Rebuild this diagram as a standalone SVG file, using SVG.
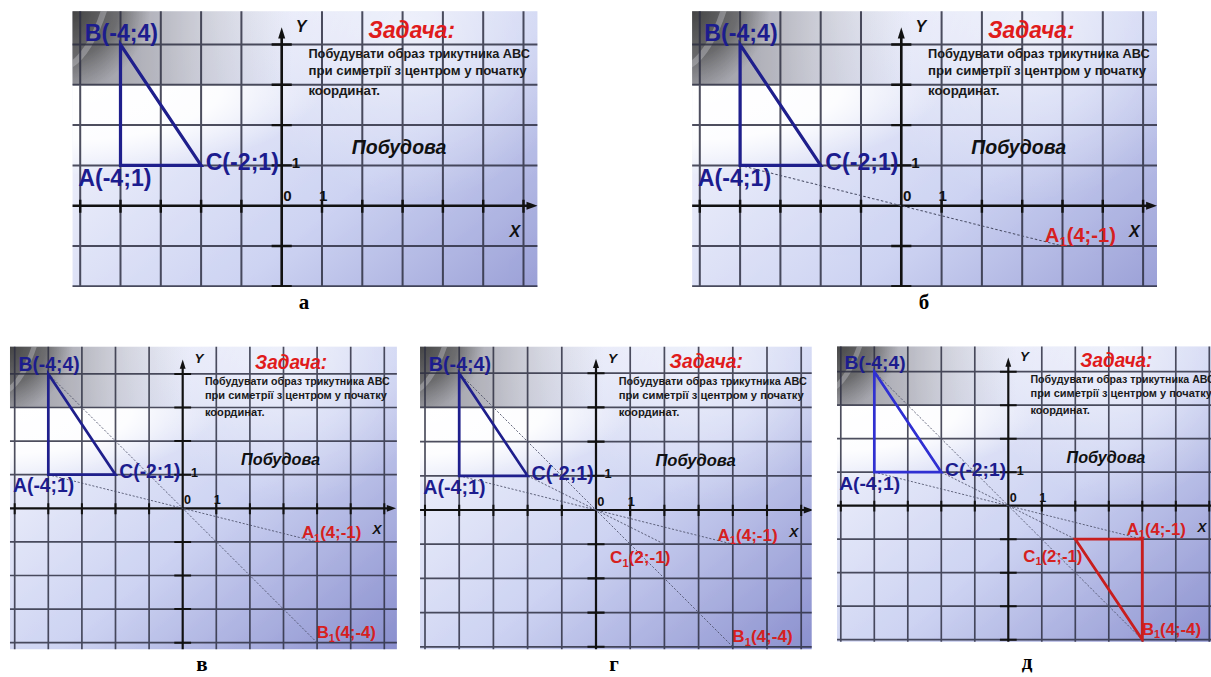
<svg xmlns="http://www.w3.org/2000/svg" xmlns:xlink="http://www.w3.org/1999/xlink" width="1211" height="677" viewBox="0 0 1211 677">
<style>
.grid{stroke:#2e3042;stroke-width:2;opacity:.85}
.axis{stroke:#111;stroke-width:2.6}
.tk{stroke:#111;stroke-width:2.4}
.ss{font-family:"Liberation Sans",Arial,sans-serif;font-weight:bold}
.it{font-style:italic}
.blue{fill:#1c1c8e}
.red{fill:#d62020}
.tri{fill:none;stroke:#1f1f8c;stroke-width:3.2}
.tri2{fill:none;stroke:#3030d2;stroke-width:3.2}
.rtri{fill:none;stroke:#c81e1e;stroke-width:3.4}
.dash{stroke:#4a4e66;stroke-width:1;stroke-dasharray:2.5 2;fill:none}
.cap{font-family:"Liberation Serif","Times New Roman",serif;font-weight:bold;font-size:21px;fill:#000;text-anchor:middle}
</style>
<defs>
<linearGradient id="bg" gradientUnits="userSpaceOnUse" x1="-60" y1="-196" x2="260" y2="176">
<stop offset="0" stop-color="#eef0fb"/>
<stop offset="0.45" stop-color="#cdd3f2"/>
<stop offset="1" stop-color="#878ccc"/>
</linearGradient>
<radialGradient id="glow" gradientUnits="userSpaceOnUse" cx="130" cy="-175" r="170">
<stop offset="0" stop-color="#ffffff" stop-opacity="0.55"/>
<stop offset="1" stop-color="#ffffff" stop-opacity="0"/>
</radialGradient>
<radialGradient id="white" gradientUnits="userSpaceOnUse" cx="-210" cy="-118" r="250" gradientTransform="translate(-210 -118) scale(1 0.35) translate(210 118)">
<stop offset="0" stop-color="#ffffff" stop-opacity="1"/>
<stop offset="0.6" stop-color="#ffffff" stop-opacity="0.9"/>
<stop offset="1" stop-color="#ffffff" stop-opacity="0"/>
</radialGradient>
<linearGradient id="gray" gradientUnits="userSpaceOnUse" x1="-210" y1="0" x2="10" y2="0">
<stop offset="0" stop-color="#8a8a90" stop-opacity="0.9"/>
<stop offset="0.4" stop-color="#a6a6ae" stop-opacity="0.75"/>
<stop offset="1" stop-color="#c0c2cc" stop-opacity="0"/>
</linearGradient>
<radialGradient id="dark" gradientUnits="userSpaceOnUse" cx="-210" cy="-196" r="80">
<stop offset="0" stop-color="#3c3c3c" stop-opacity="0.95"/>
<stop offset="0.6" stop-color="#555" stop-opacity="0.7"/>
<stop offset="1" stop-color="#666" stop-opacity="0"/>
</radialGradient>
<clipPath id="clipA"><rect x="-207.6" y="-193" width="461.4" height="273.7"/></clipPath>
<clipPath id="clipV"><rect x="-205.6" y="-192.4" width="460.6" height="360.3"/></clipPath>
<clipPath id="clipG"><rect x="-205.8" y="-191" width="458.1" height="354"/></clipPath>
<clipPath id="clipD"><rect x="-204.5" y="-190" width="464.5" height="352.4"/></clipPath>
<g id="slideBase">
<rect x="-212" y="-198" width="476" height="376" fill="url(#bg)"/>
<rect x="-212" y="-198" width="476" height="376" fill="url(#glow)"/>
<rect x="-212" y="-120" width="300" height="110" fill="url(#white)"/>
<rect x="-212" y="-198" width="230" height="78" fill="url(#gray)"/>
<rect x="-212" y="-198" width="120" height="78" fill="url(#dark)"/>
<path d="M-175,-198 Q-190,-150 -212,-138" fill="none" stroke="#d8d8dc" stroke-width="6" opacity="0.35"/>
<g class="grid">
<line x1="-200" y1="-198" x2="-200" y2="178"/><line x1="-160" y1="-198" x2="-160" y2="178"/>
<line x1="-120" y1="-198" x2="-120" y2="178"/><line x1="-80" y1="-198" x2="-80" y2="178"/>
<line x1="-40" y1="-198" x2="-40" y2="178"/><line x1="40" y1="-198" x2="40" y2="178"/>
<line x1="80" y1="-198" x2="80" y2="178"/><line x1="120" y1="-198" x2="120" y2="178"/>
<line x1="160" y1="-198" x2="160" y2="178"/><line x1="200" y1="-198" x2="200" y2="178"/>
<line x1="240" y1="-198" x2="240" y2="178"/>
<line x1="-212" y1="-160" x2="264" y2="-160"/><line x1="-212" y1="-120" x2="264" y2="-120"/>
<line x1="-212" y1="-80" x2="264" y2="-80"/><line x1="-212" y1="-40" x2="264" y2="-40"/>
<line x1="-212" y1="40" x2="264" y2="40"/><line x1="-212" y1="80" x2="264" y2="80"/>
<line x1="-212" y1="120" x2="264" y2="120"/><line x1="-212" y1="160" x2="264" y2="160"/>
</g>
<line class="axis" x1="-212" y1="0" x2="246" y2="0"/>
<polygon points="254,0 243,-4 243,4" fill="#111"/>
<line class="axis" x1="0" y1="178" x2="0" y2="-169"/>
<polygon points="0,-177 -3.5,-166 3.5,-166" fill="#111"/>
<g class="tk">
<line x1="-200" y1="-6" x2="-200" y2="7"/><line x1="-160" y1="-6" x2="-160" y2="7"/>
<line x1="-120" y1="-6" x2="-120" y2="7"/><line x1="-80" y1="-6" x2="-80" y2="7"/>
<line x1="-40" y1="-6" x2="-40" y2="7"/><line x1="40" y1="-6" x2="40" y2="7"/>
<line x1="80" y1="-6" x2="80" y2="7"/><line x1="120" y1="-6" x2="120" y2="7"/>
<line x1="160" y1="-6" x2="160" y2="7"/><line x1="200" y1="-6" x2="200" y2="7"/>
<line x1="240" y1="-6" x2="240" y2="7"/>
<line x1="-10" y1="-160" x2="10" y2="-160"/><line x1="-10" y1="-120" x2="10" y2="-120"/>
<line x1="-10" y1="-80" x2="10" y2="-80"/><line x1="-10" y1="-40" x2="10" y2="-40"/>
<line x1="-10" y1="40" x2="10" y2="40"/><line x1="-10" y1="80" x2="10" y2="80"/>
<line x1="-10" y1="120" x2="10" y2="120"/><line x1="-10" y1="160" x2="10" y2="160"/>
</g>
<text class="ss it" x="14" y="-172.5" font-size="16" fill="#111">Y</text>
<text class="ss it" x="226" y="31" font-size="16" fill="#111">X</text>
<text class="ss" x="1.6" y="-5" font-size="15" fill="#111">0</text>
<text class="ss" x="37" y="-5" font-size="15" fill="#111">1</text>
<text class="ss" x="10" y="-37" font-size="15" fill="#111">1</text>
<text class="ss it" x="86" y="-166" font-size="24" textLength="86" lengthAdjust="spacingAndGlyphs" fill="#e01b1b">Задача:</text>
<text class="ss" x="26.5" y="-146.5" font-size="12" fill="#1a1a1a" textLength="220" lengthAdjust="spacingAndGlyphs">Побудувати образ трикутника АВС</text>
<text class="ss" x="26.5" y="-129.7" font-size="12" fill="#1a1a1a" textLength="216.5" lengthAdjust="spacingAndGlyphs">при симетрії з центром у початку</text>
<text class="ss" x="26.5" y="-110" font-size="12" fill="#1a1a1a" textLength="71" lengthAdjust="spacingAndGlyphs">координат.</text>
<text class="ss it" x="69.5" y="-51.3" font-size="20" fill="#111" textLength="94" lengthAdjust="spacingAndGlyphs">Побудова</text>
<text class="ss blue" x="-195.5" y="-163" font-size="23">B(-4;4)</text>
<text class="ss blue" x="-202" y="-19.3" font-size="23">A(-4;1)</text>
<text class="ss blue" x="-75.5" y="-35.5" font-size="23">C(-2;1)</text>
</g>
</defs>

<g id="panel-a" transform="translate(281.7,205.7) scale(1.0075)">
<g clip-path="url(#clipA)">
<use xlink:href="#slideBase" href="#slideBase"/>
<polygon class="tri" points="-160,-40 -160,-160 -80,-40"/>
</g>
</g>

<g id="panel-b" transform="translate(901.3,205.7) scale(1.0075)">
<g clip-path="url(#clipA)">
<use xlink:href="#slideBase" href="#slideBase"/>
<g id="connectors-b"><line class="dash" x1="-160" y1="-40" x2="160" y2="40"/></g>
<polygon class="tri" points="-160,-40 -160,-160 -80,-40"/>
<text class="ss red" x="142.5" y="35.7" font-size="20">A<tspan font-size="13" dy="4">1</tspan><tspan dy="-4">(4;-1)</tspan></text>
</g>
</g>

<g id="panel-v" transform="translate(182.7,508.3) scale(0.84)">
<g clip-path="url(#clipV)">
<use xlink:href="#slideBase" href="#slideBase"/>
<g id="connectors-v">
<line class="dash" x1="-160" y1="-40" x2="160" y2="40"/>
<line class="dash" x1="-160" y1="-160" x2="160" y2="160"/>
</g>
<polygon class="tri" points="-160,-40 -160,-160 -80,-40"/>
<text class="ss red" x="142" y="35.7" font-size="20">A<tspan font-size="13" dy="4">1</tspan><tspan dy="-4">(4;-1)</tspan></text>
<text class="ss red" x="159.5" y="154.6" font-size="20">B<tspan font-size="13" dy="4">1</tspan><tspan dy="-4">(4;-4)</tspan></text>
</g>
</g>

<g id="panel-g" transform="translate(596,510) scale(0.855)">
<g clip-path="url(#clipG)">
<use xlink:href="#slideBase" href="#slideBase"/>
<g id="connectors-g">
<line class="dash" x1="-160" y1="-40" x2="160" y2="40"/>
<line class="dash" x1="-160" y1="-160" x2="160" y2="160"/>
<line class="dash" x1="-80" y1="-40" x2="80" y2="40"/>
</g>
<polygon class="tri" points="-160,-40 -160,-160 -80,-40"/>
<text class="ss red" x="142" y="35.7" font-size="20">A<tspan font-size="13" dy="4">1</tspan><tspan dy="-4">(4;-1)</tspan></text>
<text class="ss red" x="159.5" y="154.6" font-size="20">B<tspan font-size="13" dy="4">1</tspan><tspan dy="-4">(4;-4)</tspan></text>
<text class="ss red" x="16.4" y="62.3" font-size="20">C<tspan font-size="13" dy="4">1</tspan><tspan dy="-4">(2;-1)</tspan></text>
</g>
</g>

<g id="panel-d" transform="translate(1008.3,505.7) scale(0.8375)">
<g clip-path="url(#clipD)">
<use xlink:href="#slideBase" href="#slideBase"/>
<g id="connectors-d">
<line class="dash" x1="-160" y1="-40" x2="160" y2="40"/>
<line class="dash" x1="-160" y1="-160" x2="160" y2="160"/>
<line class="dash" x1="-80" y1="-40" x2="80" y2="40"/>
</g>
<polygon class="tri2" points="-160,-40 -160,-160 -80,-40"/>
<polygon class="rtri" points="160,40 160,160 80,40"/>
<text class="ss red" x="141.4" y="35" font-size="20">A<tspan font-size="13" dy="4">1</tspan><tspan dy="-4">(4;-1)</tspan></text>
<text class="ss red" x="159.5" y="154.4" font-size="20">B<tspan font-size="13" dy="4">1</tspan><tspan dy="-4">(4;-4)</tspan></text>
<text class="ss red" x="17.9" y="66.9" font-size="20">C<tspan font-size="13" dy="4">1</tspan><tspan dy="-4">(2;-1)</tspan></text>
</g>
</g>

<g id="captions">
<text class="cap" x="304" y="309">а</text>
<text class="cap" x="924" y="309">б</text>
<text class="cap" x="202" y="671">в</text>
<text class="cap" x="614" y="671">г</text>
<text class="cap" x="1027" y="669">д</text>
</g>
</svg>
